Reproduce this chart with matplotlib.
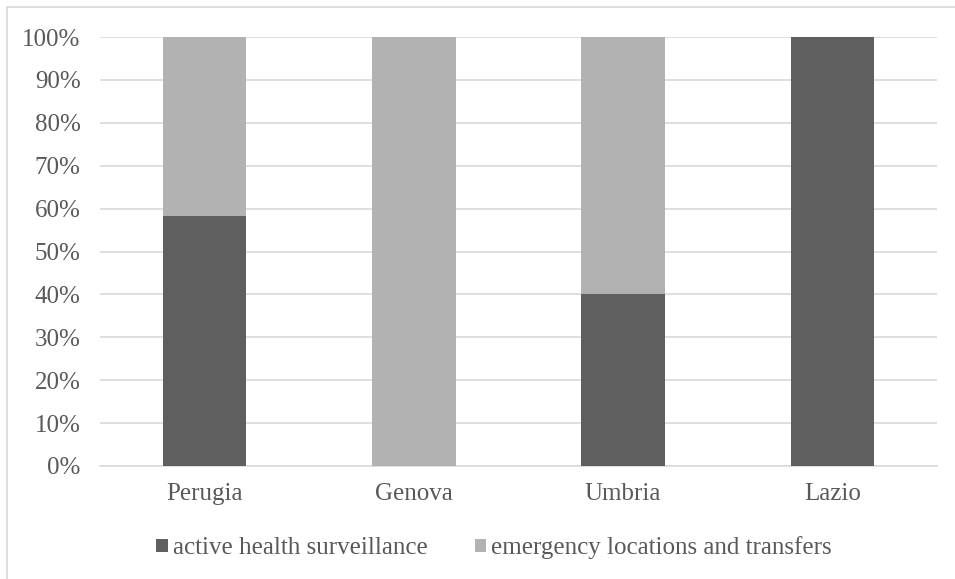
import matplotlib.pyplot as plt
from matplotlib.lines import Line2D
from matplotlib.ticker import PercentFormatter

regions = ['Perugia', 'Genova', 'Umbria', 'Lazio']
surveillance = [58.3, 0, 40, 100]
emergency = [41.7, 100, 60, 0]

dark = '#5f5f5f'
light = '#b2b2b2'
text_col = '#595959'

plt.rcParams['font.family'] = ['Liberation Serif', 'DejaVu Serif']

fig = plt.figure(figsize=(9.55, 5.79), dpi=100)
ax = fig.add_axes([100 / 955, (579 - 466) / 579, 837 / 955, 429 / 579])

x = range(len(regions))
ax.bar(x, surveillance, width=0.4, color=dark, label='active health surveillance', zorder=3)
ax.bar(x, emergency, width=0.4, bottom=surveillance, color=light,
       label='emergency locations and transfers', zorder=3)

ax.set_xlim(-0.5, 3.5)
ax.set_ylim(0, 100)
ax.set_yticks(range(0, 101, 10))
ax.yaxis.set_major_formatter(PercentFormatter(decimals=0))
ax.set_xticks(list(x))
ax.set_xticklabels(regions)
ax.grid(axis='y', color='#d9d9d9', linewidth=1.2, zorder=0)
for side in ['top', 'right', 'left']:
    ax.spines[side].set_visible(False)
ax.spines['bottom'].set_color('#d9d9d9')
ax.spines['bottom'].set_linewidth(1.2)
ax.tick_params(axis='both', length=0, labelsize=18, colors=text_col)
ax.tick_params(axis='x', pad=12)
ax.tick_params(axis='y', pad=14)

fig.legend(loc='center', bbox_to_anchor=(494 / 955, 1 - 548 / 579), ncol=2, frameon=False,
           fontsize=18, labelcolor=text_col, handlelength=0.45, handleheight=0.45,
           handletextpad=0.2, columnspacing=1.9)

# chart area frame, only left and top edges visible
fig.add_artist(Line2D([7 / 955, 7 / 955], [0, 1 - 7 / 579], transform=fig.transFigure,
                      color='#d9d9d9', linewidth=1.2))
fig.add_artist(Line2D([7 / 955, 1], [1 - 7 / 579, 1 - 7 / 579], transform=fig.transFigure,
                      color='#d9d9d9', linewidth=1.2))

fig.savefig('out.png', dpi=100)
